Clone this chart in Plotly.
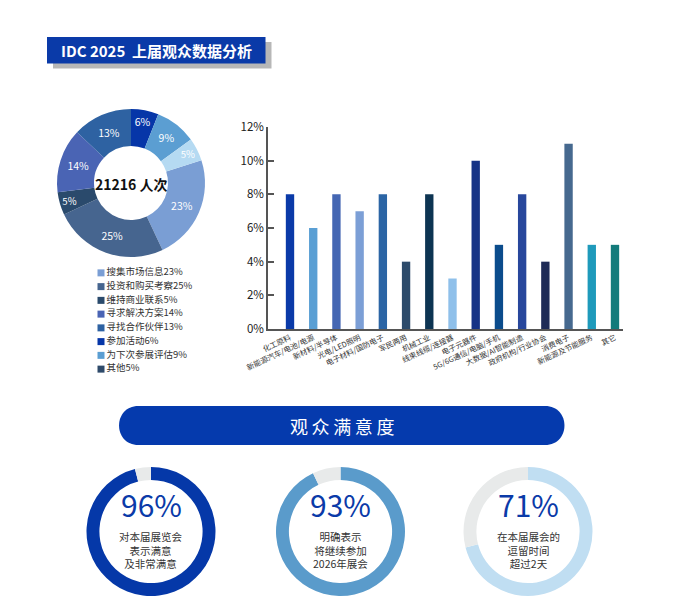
import plotly.graph_objects as go

W, H = 680, 606
FONT = "Noto Sans CJK SC, Noto Sans, sans-serif"
BLUE = "#0a3aa8"

# ---------------- data ----------------
purpose_labels = ["搜集市场信息", "投资和购买考察", "维持商业联系", "寻求解决方案",
                  "寻找合作伙伴", "参加活动", "为下次参展评估", "其他"]
purpose_values = [23, 25, 5, 14, 13, 6, 9, 5]
purpose_colors = ["#7a9ed4", "#46658f", "#2a4a6c", "#4a64b4",
                  "#2e62a2", "#0636a8", "#5b9ed2", "#b5daf2"]
legend_colors = ["#7a9ed4", "#46658f", "#2a4a6c", "#4a64b4",
                 "#2e62a2", "#0636a8", "#5b9ed2", "#2e4a6a"]
total_visitors = "21216 人次"

industry_labels = ["化工原料", "新能源汽车/电池/电源", "新材料/半导体", "光电/LED照明",
                   "电子材料/国防电子", "军民两用", "机械工业", "线束线缆/连接器",
                   "电子元器件", "5G/6G通信/电脑/手机", "大数据/AI智能制造",
                   "政府机构/行业协会", "消费电子", "新能源及节能服务", "其它"]
industry_values = [8, 6, 8, 7, 8, 4, 8, 3, 10, 5, 8, 4, 11, 5, 5]
industry_colors = ["#0a3aa8", "#5a9fd4", "#4567b3", "#7c9fd6", "#2b65a5",
                   "#2d4b6b", "#0d3452", "#8fc0ea", "#163386", "#0b4c8c",
                   "#28479c", "#1e2b56", "#46698f", "#1f9abb", "#137b7b"]
y_ticks = [0, 2, 4, 6, 8, 10, 12]
y_tick_labels = ["0%", "2%", "4%", "6%", "8%", "10%", "12%"]

sat_values = [96, 93, 71]
sat_colors = ["#0538a8", "#5a9bcb", "#c0def2"]
sat_rest_color = "#e8eaea"
sat_texts = ["对本届展览会<br>表示满意<br>及非常满意",
             "明确表示<br>将继续参加<br>2026年展会",
             "在本届展会的<br>逗留时间<br>超过2天"]


def px_x(x):
    return x / W


def px_y(y):
    return 1 - y / H


def dom(cx, cy, r):
    return dict(x=[px_x(cx - r), px_x(cx + r)], y=[px_y(cy + r), px_y(cy - r)])


fig = go.Figure()

# ---------------- main donut ----------------
fig.add_trace(go.Pie(
    labels=purpose_labels, values=purpose_values,
    marker=dict(colors=purpose_colors, line=dict(width=0)),
    hole=0.5, sort=False, direction="clockwise", rotation=72,
    texttemplate="%{value}%", textposition="inside",
    insidetextorientation="horizontal",
    textfont=dict(size=10.5, color="white", family=FONT),
    domain=dom(131, 183, 74), showlegend=False, hoverinfo="label+value",
))

# ---------------- custom legend ----------------
fig.add_trace(go.Scatter(
    x=[5] * len(purpose_labels), y=list(range(len(purpose_labels))),
    mode="markers+text",
    marker=dict(symbol="square", size=7, color=legend_colors),
    text=[f"{l}{v}%" for l, v in zip(purpose_labels, purpose_values)],
    textposition="middle right",
    textfont=dict(size=9.5, color="#333333", family=FONT),
    xaxis="x2", yaxis="y2", showlegend=False, hoverinfo="skip",
))

# ---------------- bar chart ----------------
fig.add_trace(go.Bar(
    x=industry_labels, y=industry_values,
    marker=dict(color=industry_colors, line=dict(width=0)),
    width=0.36, showlegend=False,
    hovertemplate="%{x}: %{y}%<extra></extra>",
))

# ---------------- satisfaction gauges ----------------
centers = [(151, 531.5), (340.5, 531.5), (528, 531.5)]
for (cx, cy), v, c in zip(centers, sat_values, sat_colors):
    fig.add_trace(go.Pie(
        values=[v, 100 - v], labels=["是", "否"],
        marker=dict(colors=[c, sat_rest_color], line=dict(width=0)),
        hole=0.8, sort=False, direction="clockwise", rotation=0,
        textinfo="none", domain=dom(cx, cy, 64.5), showlegend=False,
        hoverinfo="skip",
    ))

annotations = []
shapes = []

# title box
shapes.append(dict(type="rect", xref="paper", yref="paper",
                   x0=px_x(53), x1=px_x(271.5), y0=px_y(68.5), y1=px_y(42),
                   fillcolor="#b7b7b7", line=dict(width=0), layer="below"))
shapes.append(dict(type="rect", xref="paper", yref="paper",
                   x0=px_x(47), x1=px_x(265.5), y0=px_y(63.5), y1=px_y(37),
                   fillcolor=BLUE, line=dict(width=0), layer="below"))
annotations.append(dict(x=px_x(156), y=px_y(50.5), xref="paper", yref="paper",
                        text="<b>IDC 2025\u00a0 上届观众数据分析</b>", showarrow=False,
                        font=dict(size=15, color="white", family=FONT),
                        xanchor="center", yanchor="middle"))

# donut center
annotations.append(dict(x=px_x(131), y=px_y(184), xref="paper", yref="paper",
                        text=f"<b>{total_visitors}</b>", showarrow=False,
                        font=dict(size=14, color="#111111", family=FONT),
                        xanchor="center", yanchor="middle"))

# banner pill
bx0, bx1, by0, by1 = 119, 564.5, 406, 445
r = (by1 - by0) / 2
path = (f"M {px_x(bx0 + r)},{px_y(by0)} L {px_x(bx1 - r)},{px_y(by0)} "
        f"C {px_x(bx1 - r + r * 1.33)},{px_y(by0)} {px_x(bx1 - r + r * 1.33)},{px_y(by1)} "
        f"{px_x(bx1 - r)},{px_y(by1)} L {px_x(bx0 + r)},{px_y(by1)} "
        f"C {px_x(bx0 + r - r * 1.33)},{px_y(by1)} {px_x(bx0 + r - r * 1.33)},{px_y(by0)} "
        f"{px_x(bx0 + r)},{px_y(by0)} Z")
shapes.append(dict(type="path", xref="paper", yref="paper", path=path,
                   fillcolor="#053aad", line=dict(width=0), layer="below"))
annotations.append(dict(x=px_x(342), y=px_y(426), xref="paper", yref="paper",
                        text="\u2009".join("观众满意度"), showarrow=False,
                        font=dict(size=18, color="white", family=FONT),
                        xanchor="center", yanchor="middle"))

# gauge texts
for (cx, cy), v, t in zip(centers, sat_values, sat_texts):
    annotations.append(dict(x=px_x(cx), y=px_y(527), xref="paper", yref="paper",
                            text=f"{v}%", showarrow=False,
                            font=dict(size=30, color=BLUE, family=FONT),
                            xanchor="center", yanchor="bottom", borderpad=0))
    annotations.append(dict(x=px_x(cx), y=px_y(527.5), xref="paper", yref="paper",
                            text=t, showarrow=False,
                            font=dict(size=10.5, color="#333333", family=FONT),
                            xanchor="center", yanchor="top", borderpad=0))

fig.update_layout(
    width=W, height=H, margin=dict(l=0, r=0, t=0, b=0),
    paper_bgcolor="white", plot_bgcolor="rgba(0,0,0,0)",
    font=dict(family=FONT, color="#333333"),
    shapes=shapes, annotations=annotations,
    xaxis=dict(domain=[px_x(268), px_x(623)], type="category",
               range=[-0.948, 14.345], showline=True, linecolor="#555555",
               linewidth=1.5, ticks="", showgrid=False, zeroline=False,
               tickangle=-25, tickfont=dict(size=7.5, color="#333333", family=FONT),
               automargin=False, fixedrange=True),
    yaxis=dict(domain=[px_y(329), px_y(127)], range=[0, 12], tickmode="array",
               tickvals=y_ticks, ticktext=y_tick_labels,
               showline=True, linecolor="#555555", linewidth=1.5,
               ticks="inside", ticklen=6, tickwidth=1.5, tickcolor="#555555",
               showgrid=False, zeroline=False,
               tickfont=dict(size=11.5, color="#222222", family=FONT),
               automargin=False, fixedrange=True),
    xaxis2=dict(domain=[px_x(96), px_x(250)], range=[0, 154], visible=False,
                fixedrange=True),
    yaxis2=dict(domain=[px_y(376), px_y(266)], range=[7.5, -0.5], visible=False,
                fixedrange=True),
)

fig.write_html("out.html", config={"displayModeBar": False},
               post_script="document.body.style.margin='0';document.body.style.padding='0';")
